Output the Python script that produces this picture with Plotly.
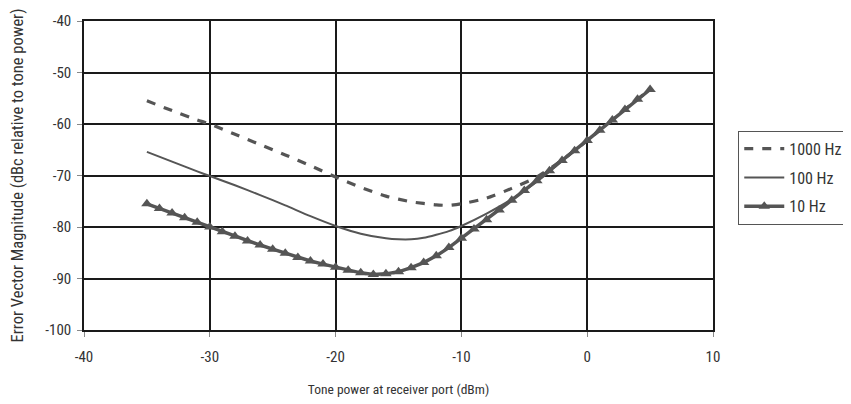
import plotly.graph_objects as go

# Data
x_1000 = [-35, -33, -31, -30, -28, -26, -24, -22, -20, -18, -16, -14, -12, -11, -10, -8, -6, -4, -2, 0, 2, 4, 5]
y_1000 = [-55.5, -57.4, -59.2, -60.0, -62.0, -64.0, -66.0, -68.1, -70.3, -72.3, -74.0, -75.1, -75.7, -75.8, -75.5, -74.4, -72.5, -70.3, -67.0, -63.2, -59.2, -55.2, -53.3]

x_100 = [-35, -33, -31, -30, -28, -26, -24, -22, -20, -18, -16, -15, -14, -13, -12, -11, -10, -8, -6, -4, -2, 0, 2, 4, 5]
y_100 = [-65.4, -67.3, -69.2, -70.1, -71.9, -73.8, -75.8, -77.9, -79.8, -81.3, -82.2, -82.4, -82.4, -82.1, -81.5, -80.8, -79.8, -77.4, -74.6, -71.2, -67.2, -63.2, -59.2, -55.2, -53.3]

x_10 = list(range(-35, 6))
y_10 = [-75.5, -76.4, -77.3, -78.2, -79.1, -80.0, -80.9, -81.8, -82.7, -83.5,
        -84.3, -85.1, -85.9, -86.6, -87.2, -87.8, -88.4, -88.9, -89.2, -89.1,
        -88.7, -87.9, -86.9, -85.6, -84.0, -82.2, -80.4, -78.6, -76.7, -74.8,
        -72.9, -71.0, -69.1, -67.1, -65.2, -63.2, -61.2, -59.2, -57.2, -55.2,
        -53.3]

x_ticks = [-40, -30, -20, -10, 0, 10]
y_ticks = [-100, -90, -80, -70, -60, -50, -40]

FONT = "Liberation Sans Narrow, Roboto Condensed, DejaVu Sans Condensed, Arial Narrow, sans-serif"
LINE = "#555555"
TXT = "#333333"

fig = go.Figure()
fig.add_trace(go.Scatter(x=x_1000, y=y_1000, mode="lines", name="1000 Hz", legendgroup="a",
                         line=dict(color=LINE, width=3.2, dash="9px,9px", shape="spline", smoothing=0.6)))
fig.add_trace(go.Scatter(x=x_100, y=y_100, mode="lines", name="100 Hz", legendgroup="b",
                         line=dict(color=LINE, width=2, shape="spline", smoothing=0.6)))
fig.add_trace(go.Scatter(x=x_10, y=y_10, mode="lines+markers", name="10 Hz", legendgroup="c",
                         line=dict(color=LINE, width=3.5),
                         marker=dict(symbol="triangle-up", size=10, color=LINE)))

axis_common = dict(
    showgrid=True, gridcolor="#1a1a1a", gridwidth=1.6,
    showline=True, linecolor="#1a1a1a", linewidth=1.6, mirror=True,
    ticks="outside", ticklen=5, tickcolor="#888888", tickwidth=1,
    zeroline=False, automargin=False,
    tickfont=dict(family=FONT, size=15, color=TXT),
)

fig.update_xaxes(range=[-40, 10], tickvals=x_ticks, ticktext=[str(v) for v in x_ticks],
                 ticklabelstandoff=7,
                 title=dict(text="Tone power at receiver port (dBm)", font=dict(family=FONT, size=13.5, color=TXT), standoff=20),
                 **axis_common)
fig.update_yaxes(range=[-100, -40], tickvals=y_ticks, ticktext=[str(v) for v in y_ticks],
                 ticklabelstandoff=3,
                 title=dict(text="Error Vector Magnitude (dBc relative to tone power)", font=dict(family=FONT, size=16.5, color=TXT), standoff=23),
                 **axis_common)

fig.update_layout(
    width=851, height=404,
    margin=dict(l=76, r=145, t=13, b=82),
    paper_bgcolor="white", plot_bgcolor="white",
    font=dict(family=FONT, color=TXT),
    showlegend=True,
    legend=dict(x=1.0385, y=0.645, xanchor="left", yanchor="top",
                bordercolor="#555555", borderwidth=1, bgcolor="white",
                font=dict(family=FONT, size=16, color=TXT),
                tracegroupgap=5, itemwidth=40),
)

fig.write_html("out.html")
